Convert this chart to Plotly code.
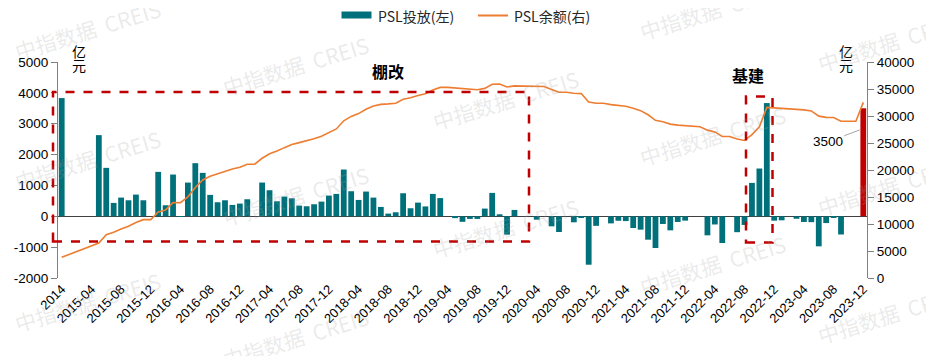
import plotly.graph_objects as go

# ---------------- data ----------------
categories = ["2014"] + [f"{y}-{m:02d}" for y in range(2015, 2024) for m in range(1, 13)]
tick_labels = categories[::4]

# PSL 投放 (left axis, 亿元)
psl_issue = [
    3831, None, None, None, None, 2630, 1569, 433, 606, 519, 703, 519, None,
    1439, 357, 1353, -20, 1093, 1721, 1407, 693, 455, 519, 368, 411,
    552, None, 1093, 844, 487, 639, 584, 346, 325, 390, 476, 671,
    725, 1515, 812, 530, 801, 606, 303, 87, 130, 747, 260, 444,
    320, 725, 590, None, -60, -180, -85, -85, 249, 758, 65, -595,
    206, None, None, -110, None, -325, -509, None, -195, -54, -1569, -310,
    None, -230, -145, -155, -379, -433, -758, -1028, -249, -455, -184, -141,
    None, None, -617, -265, -866, None, -515, -280, 1082, 1548, 3669, -141,
    -130, None, -80, -184, -190, -974, -220, -30, -590, None, None, 3500,
]

# PSL 余额 (right axis, 亿元)
psl_balance = [
    3831, None, None, None, None, 6461, 8030, 8463, 9069, 9588, 10291, 10810, 10811,
    12249, 12606, 13959, 13939, 15032, 16753, 18160, 18853, 19308, 19827, 20195, 20526,
    21078, 21078, 22171, 23015, 23502, 24141, 24725, 25071, 25396, 25786, 26240, 26876,
    27600, 29110, 29920, 30450, 31250, 31850, 32150, 32240, 32370, 33110, 33370, 33795,
    34110, 34830, 35300, 35300, 35200, 35020, 34940, 34860, 35110, 35870, 35930, 35374,
    35580, 35580, 35580, 35470, 35470, 34900, 34400, 34400, 34200, 34150, 32600, 32350,
    32350, 32100, 31950, 31800, 31420, 30990, 30230, 29200, 28950, 28500, 28310, 28170,
    28050, 28000, 27380, 27050, 26200, 26200, 25750, 25470, 26550, 28000, 31600, 31525,
    31395, 31395, 31315, 31130, 30940, 29970, 29750, 29720, 29030, 29030, 29022, 32522,
]

left_ticks = [-2000, -1000, 0, 1000, 2000, 3000, 4000, 5000]
right_ticks = [0, 5000, 10000, 15000, 20000, 25000, 30000, 35000, 40000]

TEAL = "#00707A"
RED = "#C00000"
ORANGE = "#ED7D31"
FONT = "Liberation Sans, Arial, Noto Sans CJK SC, sans-serif"
CJK = "Noto Sans CJK SC, Liberation Sans, sans-serif"

bar_colors = [TEAL] * (len(categories) - 1) + [RED]

fig = go.Figure()
fig.add_trace(go.Bar(
    x=categories, y=psl_issue, name="PSL投放(左)",
    marker=dict(color=bar_colors, line=dict(width=0)),
    showlegend=False, yaxis="y",
))
fig.add_trace(go.Scatter(
    x=categories, y=psl_balance, name="PSL余额(右)", mode="lines",
    line=dict(color=ORANGE, width=1.6), connectgaps=True,
    showlegend=False, yaxis="y2",
))

# page offset (body margin) and target plot area in screenshot pixels
OFF = 8
L, R, T, B = 58, 867, 62, 278
W, H = 934, 356
def px(x):
    return (x - L) / (R - L)
def py(y):
    return (B - y) / (B - T)

shapes = []
annotations = []

# custom legend
shapes.append(dict(type="rect", xref="paper", yref="paper",
                   x0=px(341.5), x1=px(371.5), y0=py(18.5), y1=py(11.5),
                   fillcolor=TEAL, line=dict(width=0)))
annotations.append(dict(xref="paper", yref="paper", x=px(376), y=py(15.5),
                        xanchor="left", yanchor="middle", showarrow=False,
                        text="PSL投放(左)", font=dict(family=CJK, size=14, color="#262626")))
shapes.append(dict(type="line", xref="paper", yref="paper",
                   x0=px(478), x1=px(508), y0=py(15.5), y1=py(15.5),
                   line=dict(color=ORANGE, width=2)))
annotations.append(dict(xref="paper", yref="paper", x=px(512), y=py(15.5),
                        xanchor="left", yanchor="middle", showarrow=False,
                        text="PSL余额(右)", font=dict(family=CJK, size=14, color="#262626")))

# dashed highlight boxes
shapes.append(dict(type="rect", xref="paper", yref="paper",
                   x0=px(53), x1=px(529), y0=py(241.5), y1=py(92),
                   line=dict(color=RED, width=2.5, dash="dash"), fillcolor="rgba(0,0,0,0)"))
shapes.append(dict(type="rect", xref="paper", yref="paper",
                   x0=px(746), x1=px(772.5), y0=py(242.5), y1=py(96.5),
                   line=dict(color=RED, width=2.5, dash="dash"), fillcolor="rgba(0,0,0,0)"))

annotations.append(dict(xref="paper", yref="paper", x=px(388), y=py(71),
                        xanchor="center", yanchor="middle", showarrow=False,
                        text="<b>棚改</b>", font=dict(family=CJK, size=16, color="black")))
annotations.append(dict(xref="paper", yref="paper", x=px(748), y=py(75),
                        xanchor="center", yanchor="middle", showarrow=False,
                        text="<b>基建</b>", font=dict(family=CJK, size=16, color="black")))

# unit labels
for ux in (79, 846):
    annotations.append(dict(xref="paper", yref="paper", x=px(ux), y=py(51.5),
                            xanchor="center", yanchor="middle", showarrow=False,
                            text="亿", font=dict(family=CJK, size=14, color="black")))
    annotations.append(dict(xref="paper", yref="paper", x=px(ux), y=py(64.5),
                            xanchor="center", yanchor="middle", showarrow=False,
                            text="元", font=dict(family=CJK, size=14, color="black")))

# data label of last bar
annotations.append(dict(xref="x", yref="y", x=categories[-1], y=psl_issue[-1] * 0.8,
                        xshift=-3.5, text=str(psl_issue[-1]), showarrow=True,
                        arrowhead=0, arrowwidth=1, arrowcolor="#a6a6a6",
                        ax=-32, ay=12, standoff=0,
                        font=dict(family=FONT, size=13.5, color="black")))

# watermarks
wm_pos = [(87, 30), (295, 66), (505, 100), (712, 10), (712, 136), (890, 42),
          (87, 160), (295, 196), (505, 228), (712, 265), (890, 186),
          (87, 302), (295, 338), (890, 314)]
for wx, wy in wm_pos:
    annotations.append(dict(xref="paper", yref="paper", x=px(wx), y=py(wy),
                            xanchor="center", yanchor="middle", showarrow=False,
                            text="中指数据  CREIS", textangle=-17,
                            font=dict(family=CJK, size=21, color="rgba(160,160,160,0.22)")))

fig.update_layout(
    width=W, height=H,
    margin=dict(l=L - OFF, r=W - (R - OFF), t=T - OFF, b=H - (B - OFF), autoexpand=False),
    paper_bgcolor="white", plot_bgcolor="white",
    bargap=0.22,
    font=dict(family=FONT, size=13.5, color="black"),
    shapes=shapes, annotations=annotations,
    xaxis=dict(type="category", range=[-0.5, len(categories) - 0.5],
               tickmode="array", tickvals=tick_labels, ticktext=tick_labels,
               tickangle=-45, tickfont=dict(family=FONT, size=13, color="black"),
               showline=False, ticks="", showgrid=False, zeroline=False,
               automargin=False),
    yaxis=dict(range=[-2000, 5000], tickmode="array", tickvals=left_ticks,
               ticktext=[str(v) for v in left_ticks],
               showline=True, linecolor="#808080", linewidth=1.2,
               ticks="outside", ticklen=6, tickcolor="#808080",
               showgrid=False, zeroline=True, zerolinecolor="#404040",
               zerolinewidth=1.2, automargin=False,
               tickfont=dict(family=FONT, size=13.5, color="black")),
    yaxis2=dict(range=[0, 40000], overlaying="y", side="right",
                tickmode="array", tickvals=right_ticks,
                ticktext=[str(v) for v in right_ticks],
                showline=True, linecolor="#808080", linewidth=1.2,
                ticks="outside", ticklen=6, tickcolor="#808080",
                showgrid=False, zeroline=False, automargin=False,
                tickfont=dict(family=FONT, size=13.5, color="black")),
)

fig.write_html("out.html")
